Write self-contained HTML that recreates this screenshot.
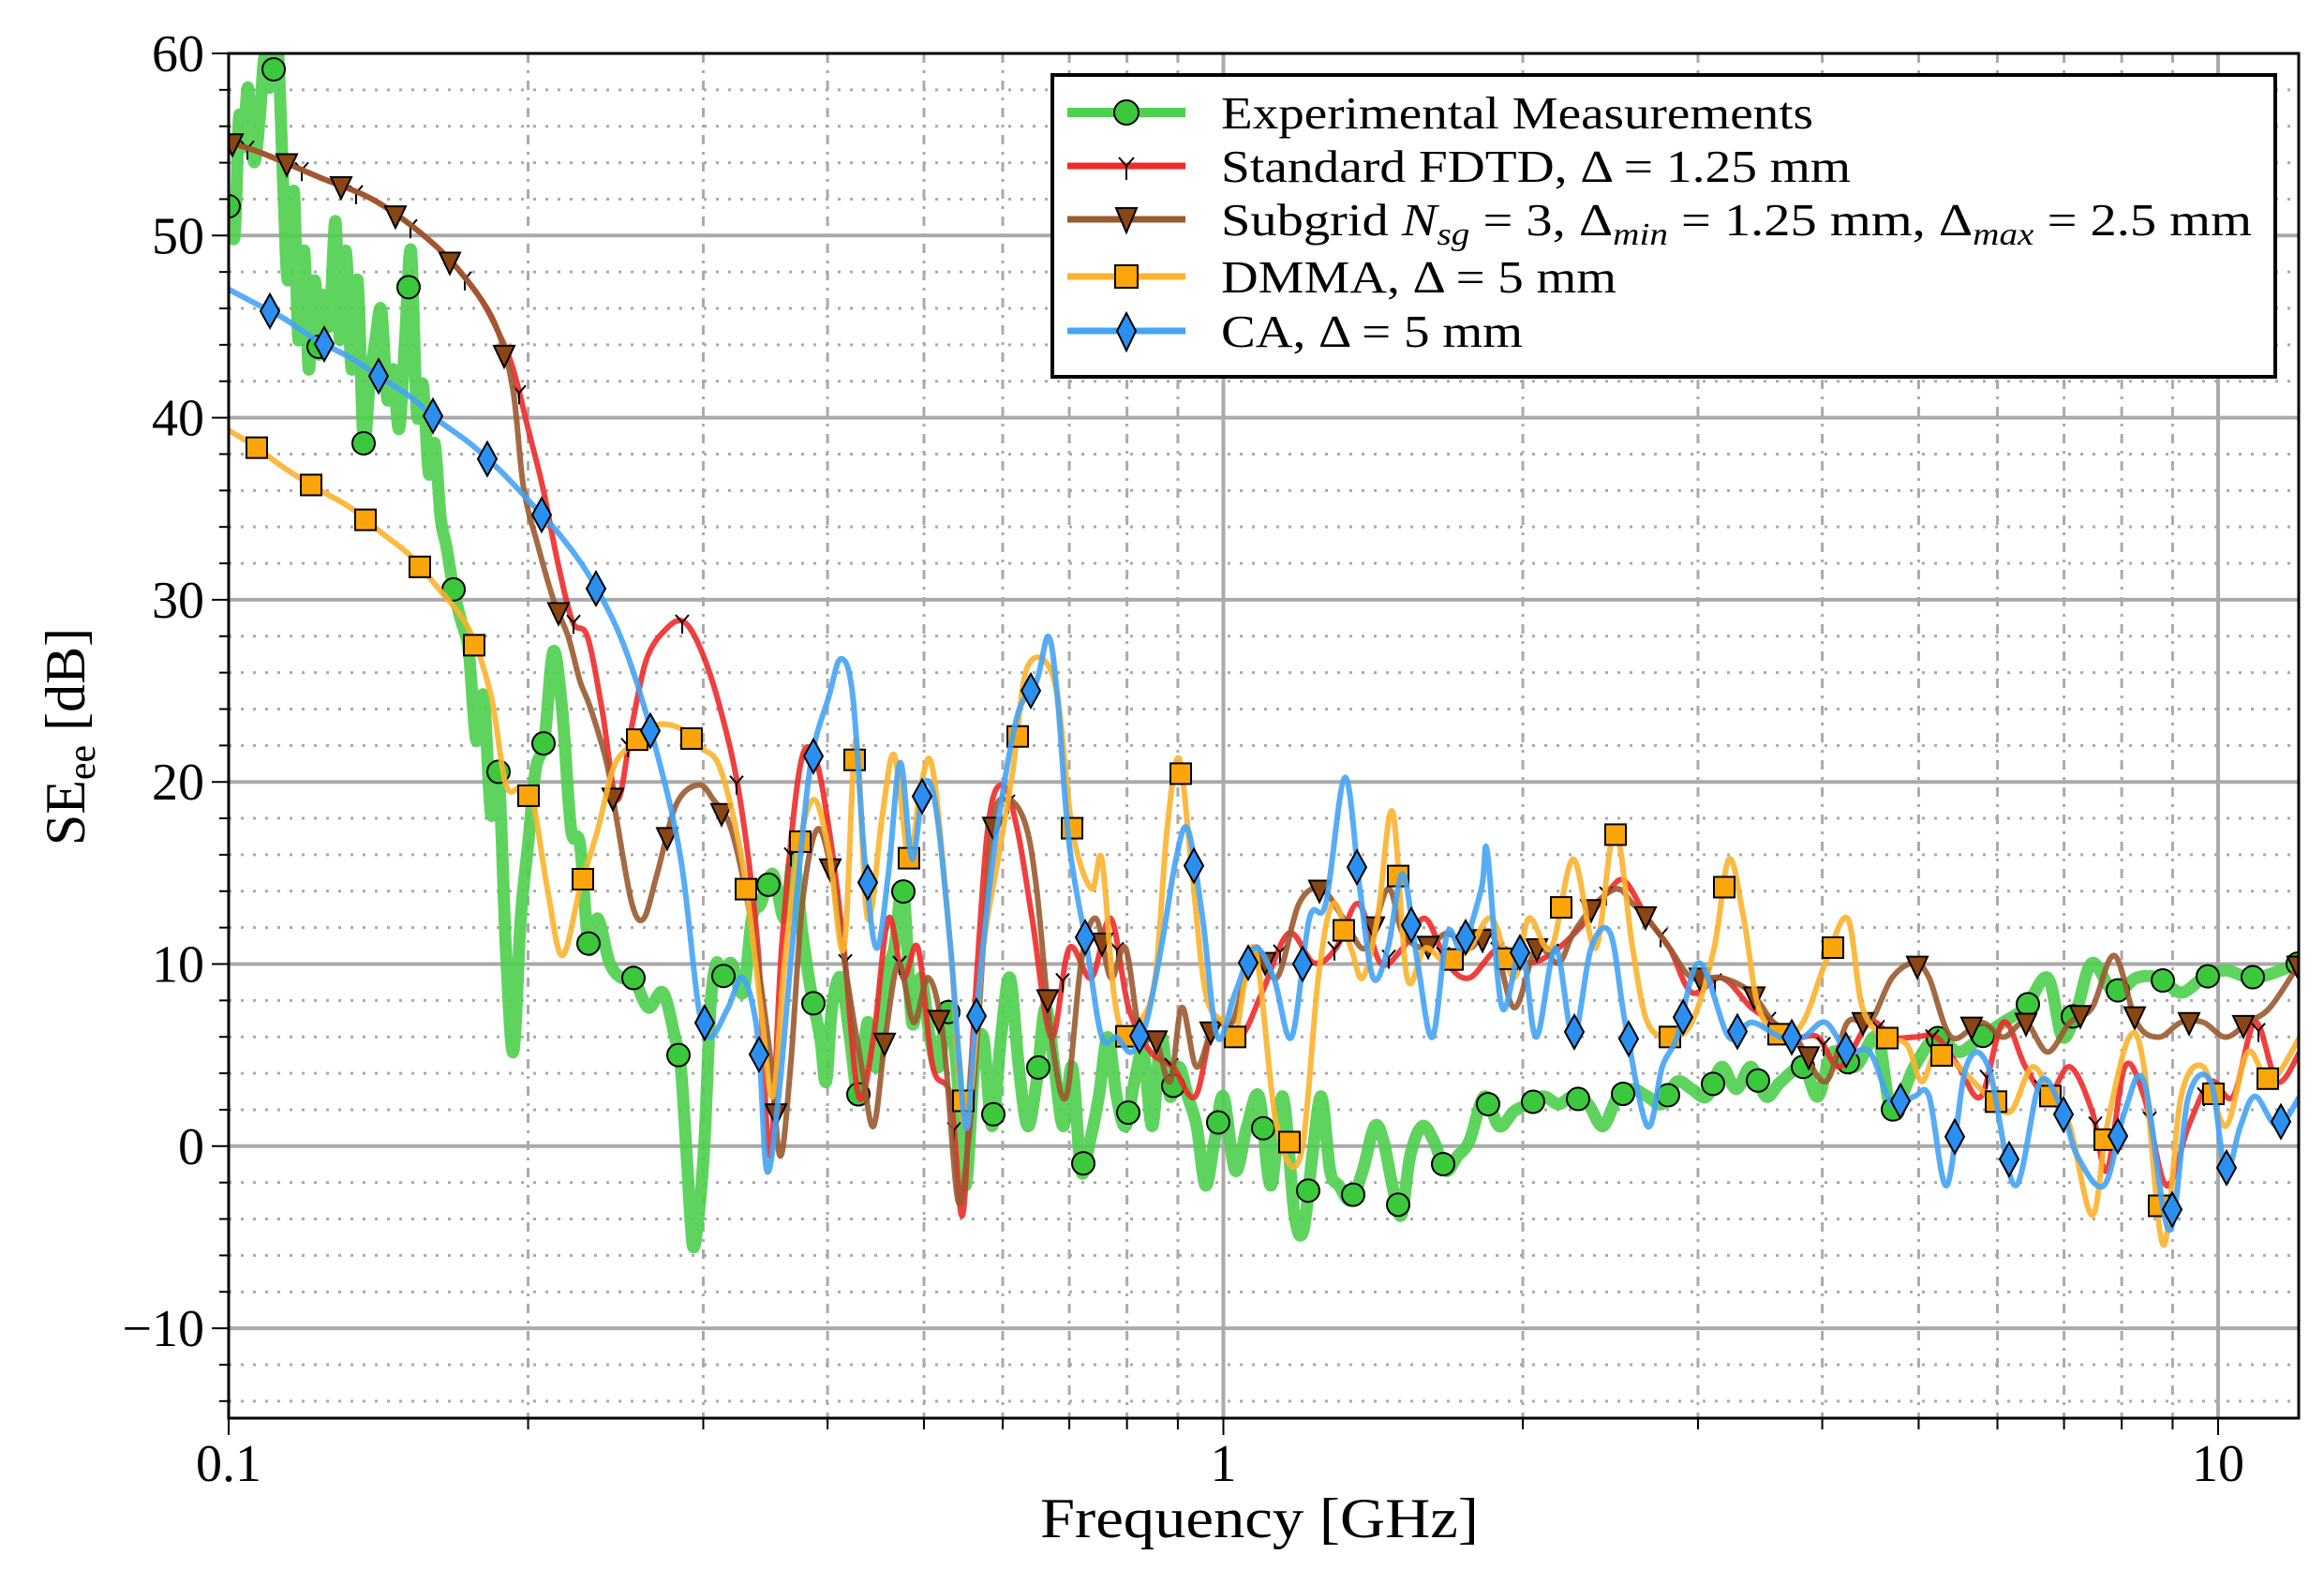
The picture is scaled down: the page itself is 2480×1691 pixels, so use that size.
<!DOCTYPE html>
<html><head><meta charset="utf-8"><style>
html,body{margin:0;padding:0;background:#fff}
svg{display:block}
text{font-family:"Liberation Serif",serif;fill:#000}
</style></head><body>
<svg id="s" width="2480" height="1691" viewBox="0 0 2480 1691" xmlns="http://www.w3.org/2000/svg">
<rect width="2480" height="1691" fill="#fff"/>
<g id="grid"></g>
<g id="curves"></g>
<g id="axes"></g>
<g id="legend">
<rect x="1123" y="80" width="1305" height="322" fill="#fff" stroke="#000" stroke-width="4"/>
<line x1="1139" y1="120" x2="1265" y2="120" stroke="#4fd14f" stroke-width="10"/>
<circle cx="1202" cy="120" r="13" fill="#3cc83c" stroke="#000" stroke-width="2"/>
<text x="1303" y="137" font-size="49" textLength="632" lengthAdjust="spacingAndGlyphs">Experimental Measurements</text>
<line x1="1139" y1="177" x2="1265" y2="177" stroke="#ee2a2a" stroke-width="7"/>
<path d="M1194 168 L1202 177 L1210 168 M1202 177 L1202 192" stroke="#000" stroke-width="2" fill="none"/>
<text x="1303" y="194" font-size="49" textLength="672" lengthAdjust="spacingAndGlyphs">Standard FDTD,  Δ = 1.25 mm</text>
<line x1="1139" y1="234" x2="1265" y2="234" stroke="#9a5a30" stroke-width="7"/>
<path d="M1191 222 L1213 222 L1202 248 Z" fill="#8b4513" stroke="#000" stroke-width="2"/>
<text x="1303" y="251" font-size="49" textLength="1100" lengthAdjust="spacingAndGlyphs">Subgrid <tspan font-style="italic">N</tspan><tspan font-style="italic" font-size="34" dy="10">sg</tspan><tspan dy="-10"> = 3,  Δ</tspan><tspan font-style="italic" font-size="34" dy="10">min</tspan><tspan dy="-10"> = 1.25 mm, Δ</tspan><tspan font-style="italic" font-size="34" dy="10">max</tspan><tspan dy="-10"> = 2.5 mm</tspan></text>
<line x1="1139" y1="295" x2="1265" y2="295" stroke="#fbb22e" stroke-width="7"/>
<rect x="1190" y="283" width="24" height="24" fill="#fca50a" stroke="#000" stroke-width="2"/>
<text x="1303" y="312" font-size="49" textLength="422" lengthAdjust="spacingAndGlyphs">DMMA, Δ = 5 mm</text>
<line x1="1139" y1="353" x2="1265" y2="353" stroke="#45a3f5" stroke-width="7"/>
<path d="M1202 334 L1212 353 L1202 374 L1192 353 Z" fill="#2b8ff0" stroke="#000" stroke-width="2"/>
<text x="1303" y="370" font-size="49" textLength="322" lengthAdjust="spacingAndGlyphs">CA, Δ = 5 mm</text>
</g>
</svg>
<script>
var NS="http://www.w3.org/2000/svg";
function el(p,t,a){var e=document.createElementNS(NS,t);for(var k in a)e.setAttribute(k,a[k]);p.appendChild(e);return e;}
var L=244,R=2453,T=57,B=1513,DEC=1061.5;
function X(f){return L+Math.log10(f/0.1)*DEC;}
function Y(v){return T+(60-v)*19.43;}
var g=document.getElementById('grid'),ax=document.getElementById('axes'),cv=document.getElementById('curves');
for(var v=-14;v<=58;v+=2){if(v%10==0)continue;el(g,'line',{x1:L,x2:R,y1:Y(v),y2:Y(v),stroke:'#aaa','stroke-width':3,'stroke-dasharray':'3 10'});}
[0.1,1,10].forEach(function(d){for(var m=2;m<=9;m++){var f=d*m;var x=X(f);if(x>R)continue;
el(g,'line',{x1:x,x2:x,y1:T,y2:B,stroke:'#aaa','stroke-width':3,'stroke-dasharray':'10 8 3 8'});
el(ax,'line',{x1:x,x2:x,y1:B,y2:B+12,stroke:'#000','stroke-width':2});}});
for(var v=-10;v<=50;v+=10){el(g,'line',{x1:L,x2:R,y1:Y(v),y2:Y(v),stroke:'#aaa','stroke-width':4});}
[1,10].forEach(function(f){el(g,'line',{x1:X(f),x2:X(f),y1:T,y2:B,stroke:'#aaa','stroke-width':4});});
el(ax,'rect',{x:L,y:T,width:R-L,height:B-T,fill:'none',stroke:'#000','stroke-width':3});
for(var v=-14;v<=60;v+=2){el(ax,'line',{x1:L-(v%10==0?18:10),x2:L,y1:Y(v),y2:Y(v),stroke:'#000','stroke-width':2});}
for(var v=-10;v<=60;v+=10){var t=el(ax,'text',{x:L-26,y:Y(v)+19,'font-size':56,'text-anchor':'end'});t.textContent=(v<0?'\u2212'+(-v):v);}
[[0.1,'0.1'],[1,'1'],[10,'10']].forEach(function(p){el(ax,'line',{x1:X(p[0]),x2:X(p[0]),y1:B,y2:B+18,stroke:'#000','stroke-width':2});
var t=el(ax,'text',{x:X(p[0]),y:1580,'font-size':56,'text-anchor':'middle'});t.textContent=p[1];});
var t=el(ax,'text',{x:1110,y:1640,'font-size':60,textLength:468,lengthAdjust:'spacingAndGlyphs'});t.textContent='Frequency [GHz]';
var t=el(ax,'text',{x:0,y:0,'font-size':60,'text-anchor':'middle',transform:'translate(90,786) rotate(-90)'});
t.innerHTML='SE<tspan font-size="42" dy="11">ee</tspan><tspan dy="-11"> [dB]</tspan>';
function P(a){var o=[];for(var i=0;i<a.length;i+=2)o.push([244+(a[i]-153)*1.582,57+(a[i+1]-37)*1.583]);return o;}
function cr(p){var d='M'+p[0][0].toFixed(1)+' '+p[0][1].toFixed(1);for(var i=0;i<p.length-1;i++){var p0=p[i>0?i-1:0],p1=p[i],p2=p[i+1],p3=p[i+2<p.length?i+2:i+1];
d+=' C'+(p1[0]+(p2[0]-p0[0])/6).toFixed(1)+' '+(p1[1]+(p2[1]-p0[1])/6).toFixed(1)+' '+(p2[0]-(p3[0]-p1[0])/6).toFixed(1)+' '+(p2[1]-(p3[1]-p1[1])/6).toFixed(1)+' '+p2[0].toFixed(1)+' '+p2[1].toFixed(1);}return d;}
function interp(p,x){for(var i=0;i<p.length-1;i++){if(x>=p[i][0]&&x<=p[i+1][0]){var r=(x-p[i][0])/(p[i+1][0]-p[i][0]||1);return p[i][1]+r*(p[i+1][1]-p[i][1]);}}return p[p.length-1][1];}
var green=P([153,140,157,160,160,80,163,100,166,60,170,110,174,80,177,40,180,60,183,50,186,30,190,130,193,190,197,130,200,230,204,170,207,250,211,190,214,240,217,200,221,220,225,150,228,230,232,170,236,250,240,190,244,300,248,260,252,230,256,210,260,270,264,250,268,290,272,230,276,170,280,280,284,260,288,320,292,300,296,350,300,370,305,400,310,420,315,440,320,500,325,470,330,550,335,520,340,640,345,710,350,620,355,570,360,520,366,500,372,440,378,480,384,560,390,570,396,640,402,620,410,650,418,660,426,660,436,680,446,670,454,700,458,720,462,780,466,840,470,820,474,770,478,680,482,650,486,660,492,650,500,670,506,620,512,610,520,590,528,620,534,580,540,630,546,670,552,700,556,730,560,680,566,660,572,700,578,740,584,690,590,720,596,660,602,640,608,600,614,690,620,660,626,700,632,720,638,680,644,720,650,800,656,720,662,700,668,760,674,700,680,660,686,720,692,760,698,730,704,680,710,720,716,760,722,720,728,790,734,770,740,740,746,700,752,740,758,760,764,730,770,710,776,760,782,700,788,740,794,720,800,740,806,760,812,800,818,770,824,740,832,790,840,760,848,740,856,800,864,740,872,820,878,830,884,780,890,740,896,790,902,800,910,810,918,790,926,760,932,770,938,800,944,820,950,780,958,760,966,770,974,790,982,780,990,770,1000,740,1010,760,1020,750,1030,745,1040,740,1050,745,1060,740,1070,745,1080,760,1090,740,1100,735,1110,740,1120,745,1130,730,1140,735,1150,740,1160,720,1170,735,1180,720,1190,740,1200,730,1215,720,1225,740,1235,710,1250,720,1265,700,1275,750,1290,720,1305,700,1320,710,1335,700,1350,690,1365,680,1380,660,1390,700,1400,680,1410,650,1425,670,1440,660,1455,660,1470,670,1485,660,1500,655,1520,660,1550,650]);
var head=[153,97,175,104,213,120,253,137,293,167,320,198,335,225];
var brown=P(head.concat([345,265,352,330,362,370,372,405,382,430,390,460,397,478,408,515,415,555,425,610,433,620,442,590,455,543,470,530,480,540,492,560,505,620,518,710,525,780,532,720,540,610,550,560,560,590,570,660,580,720,588,760,596,700,605,650,615,690,625,660,635,700,645,810,652,770,658,700,668,560,678,540,690,555,698,600,708,700,718,740,728,650,738,620,748,660,758,640,768,700,778,700,788,730,796,680,806,720,818,690,830,690,845,640,860,660,875,610,890,600,905,620,920,640,935,600,945,630,960,640,975,630,990,640,1005,630,1020,680,1035,640,1050,650,1060,630,1075,610,1090,600,1100,610,1110,620,1125,640,1140,660,1160,660,1180,670,1195,690,1210,700,1230,730,1245,690,1260,690,1275,660,1290,650,1300,660,1315,700,1335,690,1350,700,1365,690,1380,710,1395,690,1410,680,1425,645,1440,690,1455,700,1470,690,1485,690,1500,700,1515,690,1530,680,1550,650]));
var red=P(head.concat([345,250,355,290,365,330,375,380,385,420,395,430,405,480,415,540,425,490,435,445,448,425,460,420,472,440,485,480,498,540,510,640,518,780,526,640,538,520,548,510,558,560,568,640,578,740,588,700,598,620,608,660,618,640,628,720,640,740,648,820,655,700,665,560,675,530,685,560,695,620,708,700,720,640,735,660,748,620,760,680,775,710,790,720,805,740,818,690,835,700,850,670,868,630,885,650,900,640,915,610,930,650,945,640,960,620,975,650,990,660,1010,640,1030,650,1050,640,1070,620,1085,600,1095,595,1110,620,1125,640,1140,670,1160,660,1180,680,1195,690,1210,700,1225,700,1240,720,1260,690,1275,700,1290,700,1305,700,1320,720,1335,740,1350,690,1365,720,1380,740,1395,720,1410,750,1420,790,1432,720,1445,740,1460,800,1475,760,1490,730,1505,740,1520,690,1535,730,1550,710]));
var blue=P([153,196,172,206,191,216,212,230,235,242,258,257,275,268,294,284,316,300,336,318,355,338,376,361,398,392,420,437,441,505,458,580,470,680,478,700,490,680,500,660,510,700,516,790,524,740,533,640,545,520,558,470,566,445,574,470,582,580,590,640,598,590,606,515,614,580,622,530,630,545,640,640,650,760,656,700,666,600,676,530,686,480,698,460,706,430,712,470,720,570,732,640,742,700,752,700,762,710,772,690,782,640,792,580,800,560,810,620,820,700,832,670,845,640,858,660,870,700,882,620,893,610,906,525,916,600,925,660,935,640,945,590,955,650,965,700,975,630,985,640,998,600,1002,575,1012,680,1025,640,1035,700,1048,640,1060,700,1072,640,1085,630,1095,690,1110,760,1120,720,1130,700,1145,650,1165,700,1180,690,1200,700,1215,700,1230,690,1245,710,1260,710,1275,745,1290,740,1300,740,1312,800,1325,720,1340,720,1358,800,1375,730,1390,750,1400,780,1418,800,1432,750,1445,730,1462,830,1475,740,1490,730,1500,790,1510,760,1520,740,1535,760,1550,740]);
var orange=P([153,291,171,302,190,316,212,330,235,343,256,360,275,375,294,397,315,425,330,470,340,530,350,532,358,540,368,600,378,645,390,600,402,560,412,520,422,505,440,490,458,492,472,505,485,520,500,585,512,680,520,740,528,650,538,570,548,540,558,575,568,640,576,500,584,620,594,550,602,510,612,580,620,530,628,520,640,640,650,760,662,640,672,580,682,520,692,450,710,460,722,560,735,600,742,580,750,670,758,700,768,690,778,660,786,560,794,512,802,580,812,670,824,690,832,700,845,640,860,760,876,780,888,660,898,610,910,640,918,660,928,620,938,548,948,660,960,640,975,650,990,640,1005,620,1020,660,1030,620,1045,640,1060,580,1075,640,1088,560,1100,640,1110,690,1125,700,1140,690,1155,640,1165,580,1175,620,1185,680,1200,700,1215,690,1230,650,1245,620,1255,680,1270,700,1285,705,1295,730,1305,710,1320,720,1340,740,1355,750,1370,720,1385,745,1395,760,1410,820,1420,760,1435,700,1445,720,1458,840,1470,740,1485,720,1500,760,1515,710,1530,730,1550,700]);
var clip=el(document.getElementById('s'),'clipPath',{id:'c'});el(clip,'rect',{x:L,y:T,width:R-L,height:B-T});
cv.setAttribute('clip-path','url(#c)');
function series(p,col,w,mk,mcol,step,off){el(cv,'path',{d:cr(p),fill:'none',stroke:col,'stroke-width':w,'stroke-linejoin':'round','stroke-linecap':'round','stroke-opacity':0.9});
for(var x=L+off;x<R;x+=step){var y=interp(p,x);
if(mk=='o')el(cv,'circle',{cx:x,cy:y,r:12,fill:mcol,stroke:'#000','stroke-width':2});
else if(mk=='v')el(cv,'path',{d:'M'+(x-11)+' '+(y-10)+'L'+(x+11)+' '+(y-10)+'L'+x+' '+(y+13)+'Z',fill:mcol,stroke:'#000','stroke-width':2});
else if(mk=='y')el(cv,'path',{d:'M'+(x-7)+' '+(y-8)+'L'+x+' '+y+'L'+(x+7)+' '+(y-8)+'M'+x+' '+y+'L'+x+' '+(y+12),fill:'none',stroke:'#000','stroke-width':2});
else if(mk=='s')el(cv,'rect',{x:x-11,y:y-11,width:22,height:22,fill:mcol,stroke:'#000','stroke-width':2});
else if(mk=='d')el(cv,'path',{d:'M'+x+' '+(y-18)+'L'+(x+10)+' '+y+'L'+x+' '+(y+18)+'L'+(x-10)+' '+y+'Z',fill:mcol,stroke:'#000','stroke-width':2});}}
series(green,'#4ccf4c',13,'o','#3cc83c',48,0);
series(red,'#ee2a2a',6,'y','',58,20);
series(brown,'#9a5a30',6,'v','#8b4513',58,4);
series(orange,'#fbb22e',6,'s','#fca50a',58,30);
series(blue,'#45a3f5',6,'d','#2b8ff0',58,44);
</script>
</body></html>
